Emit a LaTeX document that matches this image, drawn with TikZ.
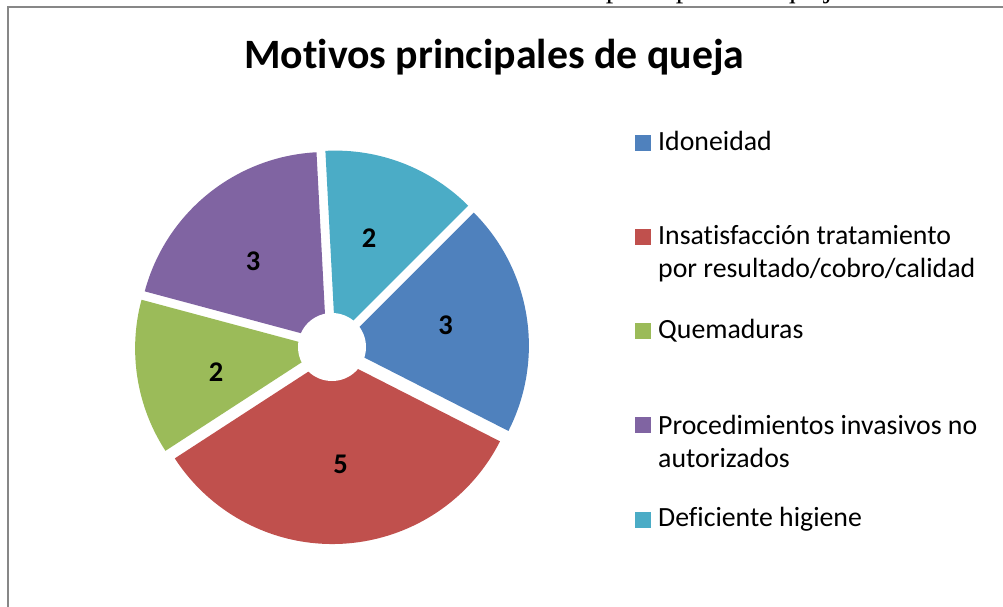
\documentclass[tikz,border=0pt]{standalone}
\usepackage{fontspec}
\setmainfont{Carlito}[Ligatures={NoCommon}]
\newfontfamily\serifcut{Liberation Serif}
\definecolor{cBlue}{HTML}{4F81BD}
\definecolor{cRed}{HTML}{C0504D}
\definecolor{cGreen}{HTML}{9BBB59}
\definecolor{cPurple}{HTML}{8064A2}
\definecolor{cCyan}{HTML}{4BACC6}
\definecolor{frameGray}{HTML}{878787}
\tikzset{
  legsq/.style={fill=#1, draw=none, minimum size=16pt, inner sep=0pt, anchor=north west},
  legtext/.style={anchor=base west, inner sep=0pt, align=left, font=\fontsize{27.8}{33}\selectfont},
  vallabel/.style={inner sep=0pt, font=\fontsize{28.5}{33}\selectfont\bfseries},
}
\begin{document}
\begin{tikzpicture}[x=1pt,y=-1pt]
\useasboundingbox (0,0) rectangle (1003,607);
\begin{scope}
\clip (0,0) rectangle (1003,607);
\fill[white] (0,0) rectangle (1003,607);
% cut-off caption above the frame
\node[anchor=base east, inner sep=0pt, font=\serifcut\fontsize{30}{36}\selectfont] (caption) at (846,-2.5) {Motivos principales de queja};
% frame
\draw[frameGray, line width=1.7pt] (7.7,700) -- (7.7,6.9) -- (1100,6.9);
\end{scope}
% title
\node[anchor=base west, inner sep=0pt, font=\fontsize{41.8}{48}\selectfont\bfseries] (title) at (244,68.3) {Motivos principales de queja};
% pie
\begin{scope}[shift={(332,347)}, yscale=-1]
  \def\R{188}
  \def\d{9}
  \fill[cBlue, shift={(9:\d)}] (0,0) -- (45:\R) arc[start angle=45, end angle=-27, radius=\R] -- cycle;
  \fill[cRed, shift={(-87:\d)}] (0,0) -- (-27:\R) arc[start angle=-27, end angle=-147, radius=\R] -- cycle;
  \fill[cGreen, shift={(-171:\d)}] (0,0) -- (-147:\R) arc[start angle=-147, end angle=-195, radius=\R] -- cycle;
  \fill[cPurple, shift={(129:\d)}] (0,0) -- (165:\R) arc[start angle=165, end angle=93, radius=\R] -- cycle;
  \fill[cCyan, shift={(69:\d)}] (0,0) -- (93:\R) arc[start angle=93, end angle=45, radius=\R] -- cycle;
  \fill[white] (0,0) circle[radius=34];
\end{scope}
% value labels
\node[vallabel] (vIdo) at (445.5,325.5) {3};
\node[vallabel] (vIns) at (340.5,464) {5};
\node[vallabel] (vQue) at (216,372) {2};
\node[vallabel] (vPro) at (253,261) {3};
\node[vallabel] (vDef) at (369,238) {2};
% legend
\node[legsq=cBlue] (sq1) at (635,135) {};
\node[legtext] (l1) at (658,150) {Idoneidad};
\node[legsq=cRed] (sq2) at (635,229) {};
\node[legtext] (l2) at (658,277) {Insatisfacción tratamiento\\por resultado/cobro/calidad};
\node[legsq=cGreen] (sq3) at (635,323) {};
\node[legtext] (l3) at (658,338) {Quemaduras};
\node[legsq=cPurple] (sq4) at (635,417) {};
\node[legtext] (l4) at (658,467) {Procedimientos invasivos no\\autorizados};
\node[legsq=cCyan] (sq5) at (635,512) {};
\node[legtext] (l5) at (658,526) {Deficiente higiene};
\end{tikzpicture}
\end{document}
